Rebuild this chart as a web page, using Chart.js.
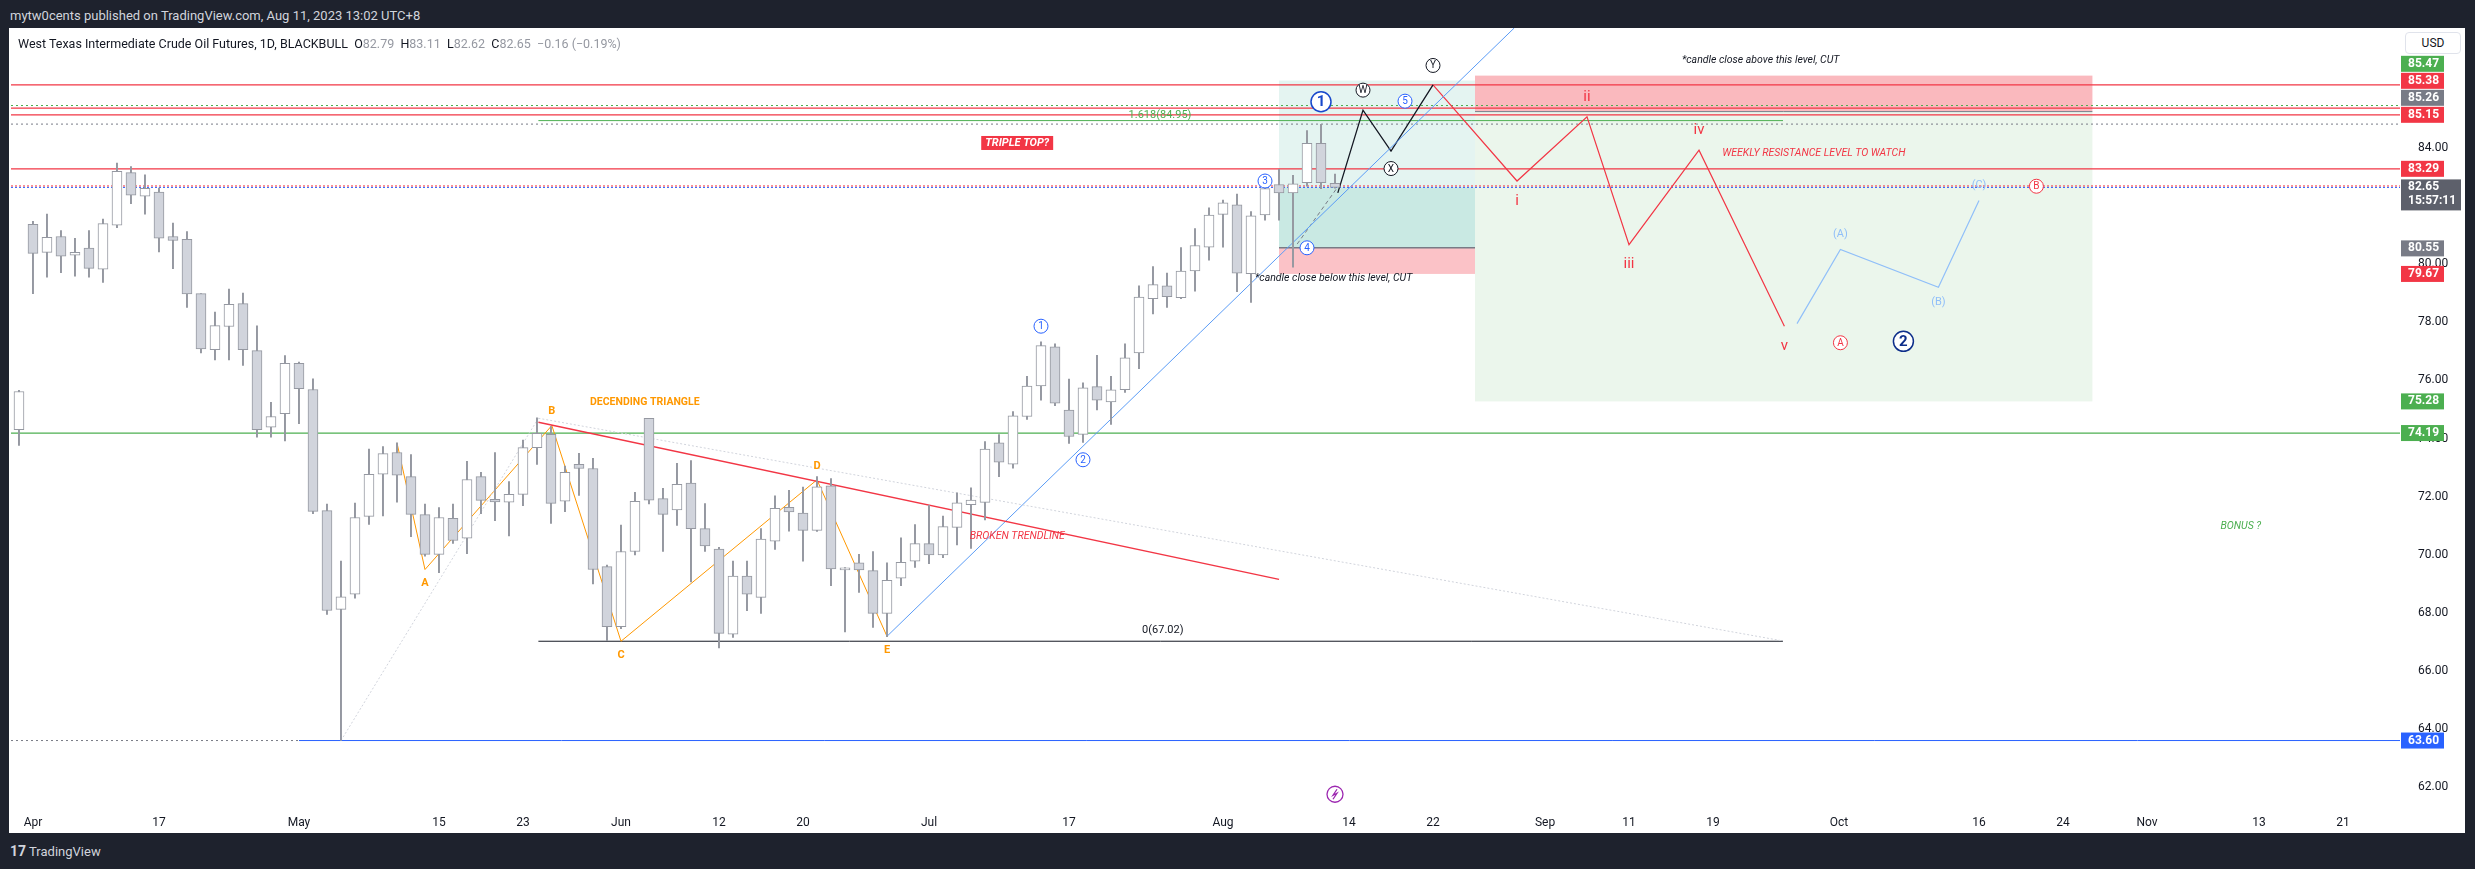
<!DOCTYPE html>
<html>
<head>
<meta charset="utf-8">
<script src="https://cdn.jsdelivr.net/npm/chart.js@4.4.0/dist/chart.umd.min.js"></script>
<style>
  html, body { margin: 0; padding: 0; background: #1e222d; width: 2475px; height: 869px; overflow: hidden; font-family: Roboto, "Liberation Sans", sans-serif; }
  #hdr { position: absolute; left: 10px; top: 8px; color: #d1d4dc; font-size: 13px; }
  #panel { position: absolute; left: 9px; top: 28px; width: 2456px; height: 805px; background: #fff; }
  #legend { position: absolute; left: 18px; top: 36px; font-size: 12.5px; color: #131722; z-index: 2; }
  #legend span { color: #9598a1; }
  #usd { position: absolute; left: 2405px; top: 32px; width: 54px; height: 20px; border: 1px solid #e0e3eb; border-radius: 4px; font-size: 12px; text-align: center; line-height: 20px; color: #131722; background: #fff; z-index: 2; }
  #foot { position: absolute; left: 10px; top: 843px; color: #d1d4dc; font-size: 13px; }
  #foot b { font-size: 14px; margin-right: 3px; }
  #wrap { position: absolute; left: 9px; top: 28px; width: 2456px; height: 805px; }
</style>
</head>
<body>
<div id="hdr">mytw0cents published on TradingView.com, Aug 11, 2023 13:02 UTC+8</div>
<div id="panel"></div>
<div id="legend">West Texas Intermediate Crude Oil Futures, 1D, BLACKBULL &nbsp;O<span>82.79</span> &nbsp;H<span>83.11</span> &nbsp;L<span>82.62</span> &nbsp;C<span>82.65</span> &nbsp;<span>−0.16 (−0.19%)</span></div>
<div id="usd">USD</div>
<div id="wrap"><canvas id="c"></canvas></div>
<div id="foot"><b>17</b>TradingView</div>
<script>
/* WTI daily, Mar 31 - Aug 11 2023 */
const opens  = [74.31,81.38,80.41,80.96,80.32,80.56,79.83,81.35,83.16,82.35,82.49,80.96,80.86,78.99,77.06,77.86,78.65,77.03,74.39,74.86,
                76.59,75.69,71.52,68.12,68.64,71.32,72.77,73.52,72.69,71.38,70.01,71.25,70.57,72.69,71.91,71.81,72.08,73.69,74.15,71.84,
                73.11,72.97,69.59,67.52,70.11,74.70,71.93,71.54,72.47,70.90,70.19,67.26,69.26,68.53,70.47,71.63,71.43,70.84,72.37,69.48,
                69.72,69.45,67.98,69.19,69.78,70.38,69.99,70.94,71.72,71.80,73.85,73.12,74.76,75.81,77.16,74.98,74.14,75.79,75.26,75.68,
                76.95,78.82,79.26,78.85,79.77,80.59,81.72,82.05,79.68,81.70,82.75,82.46,82.81,84.17,82.79];
const highs  = [75.66,81.48,81.73,81.16,80.90,81.16,81.56,83.49,83.37,83.08,82.63,81.42,81.13,78.99,78.36,79.15,79.01,77.88,75.25,76.86,
                76.63,76.06,71.74,69.78,71.78,73.64,73.72,73.85,73.45,71.74,71.62,71.74,73.22,72.84,73.52,72.52,73.95,74.71,74.41,73.05,
                73.49,73.32,69.64,71.02,72.15,74.70,72.29,73.15,73.24,71.76,70.25,69.78,69.78,70.90,72.03,72.22,72.33,72.69,72.62,69.56,
                70.01,70.11,69.72,70.58,71.04,71.70,71.33,72.13,72.30,73.90,74.14,74.93,76.14,77.33,77.26,76.05,75.92,76.87,76.14,77.26,
                79.26,79.92,79.70,80.58,81.23,81.95,82.21,82.42,81.82,83.08,83.27,83.07,84.61,84.82,83.11];
const lows   = [73.76,78.99,79.56,79.71,79.59,79.56,79.38,81.26,82.09,81.73,80.43,79.85,78.52,76.95,76.71,76.71,76.52,74.05,74.05,73.92,
                74.51,71.41,67.94,63.60,68.50,71.04,71.34,71.81,70.62,69.95,69.38,70.39,70.04,71.41,71.17,70.65,71.69,73.11,71.08,71.48,
                72.04,68.99,67.04,67.45,69.99,71.75,70.11,71.01,69.06,70.11,66.79,67.15,68.07,67.98,70.18,70.81,69.78,70.80,68.93,67.34,
                68.70,67.50,67.18,68.93,69.56,69.69,69.90,70.34,70.22,71.20,72.69,72.98,74.66,75.32,75.13,73.83,73.87,74.99,74.49,75.59,
                76.41,78.29,78.52,78.82,79.08,80.14,80.59,79.06,78.69,81.52,81.52,79.90,82.69,82.61,82.62];
const closes = [75.62,80.38,80.93,80.28,80.41,79.86,81.40,83.20,82.38,82.62,80.90,80.82,78.98,77.09,77.89,78.62,77.06,74.31,74.76,76.59,
                75.72,71.49,68.08,68.55,71.28,72.77,73.48,72.74,71.39,70.01,71.28,70.49,72.59,71.87,71.82,72.08,73.69,74.18,71.77,72.84,
                72.97,69.49,67.52,70.11,71.84,71.88,71.39,72.42,70.90,70.30,67.29,69.26,68.64,70.54,71.60,71.47,70.84,72.34,69.51,69.51,
                69.48,67.98,69.12,69.74,70.38,69.99,70.97,71.79,71.88,73.64,73.19,74.78,75.81,77.20,75.22,74.07,75.75,75.32,75.68,76.78,
                78.87,79.30,78.89,79.77,80.65,81.70,82.12,79.70,81.67,82.61,82.46,82.77,84.17,82.81,82.65];

/* x axis: trading days (weekdays, Good Friday closed), extended into the projection area */
const firstDay  = '2023-03-31';
const lastDay   = '2023-11-27';
const holidays  = ['2023-04-07'];
const tickDays  = ['2023-04-03','2023-04-17','2023-05-01','2023-05-15','2023-05-23','2023-06-01','2023-06-12','2023-06-20','2023-07-03','2023-07-17',
                   '2023-08-01','2023-08-14','2023-08-22','2023-09-01','2023-09-11','2023-09-19','2023-10-02','2023-10-16','2023-10-24','2023-11-01','2023-11-13','2023-11-21'];
const tickNames = ['Apr','17','May','15','23','Jun','12','20','Jul','17','Aug','14','22','Sep','11','19','Oct','16','24','Nov','13','21'];
const yTicks    = [62,64,66,68,70,72,74,76,78,80,82,84];

/* drawings, as [bar index, price] */
const zigzagPts   = [[27,73.85],[29,69.49],[38.06,74.45],[43,67.02],[57,72.58],[62,67.19]];
const zigzagNames = ['', 'A','B','C','D','E'];
const impulsePts  = [[101,86.18],[107,82.87],[112,85.08],[115,80.68],[120,83.93],[126.1,77.87]];
const impulseNames= ['', 'i','ii','iii','iv','v'];
const abcPts      = [[127,77.96],[130.1,80.51],[137.1,79.21],[140,82.2]];
const abcNames    = ['', '(A)','(B)','(C)'];
const wxyPts      = [[94.2,82.46],[96,85.31],[98,83.9],[101,86.18]];
const upTrend     = [[62,67.19],[106.8,88.14]];
const brokenTrend = [[37.1,74.56],[90,69.15]];
const grayRise    = [[23,63.6],[37.1,74.7]];
const grayFall    = [[37.1,74.7],[126,67.03]];
const dashedLeg   = [[91.3,80.7],[94.1,82.6]];

const days = [];
for (let d = new Date(firstDay + 'T00:00:00Z'); d <= new Date(lastDay + 'T00:00:00Z'); d.setUTCDate(d.getUTCDate() + 1)) {
  const s = d.toISOString().slice(0, 10);
  if (d.getUTCDay() === 0 || d.getUTCDay() === 6 || holidays.includes(s)) continue;
  days.push(s);
}
const tickIdx = tickDays.map(t => days.indexOf(t));
const XMIN = -0.57, XMAX = days.length - 1 + 0.07, YMIN = 61.38, YMAX = 88.14;

const RED = '#f23645', GREEN = '#4caf50', BLUE = '#2962ff', GRAYL = '#9598a1';
const pts = a => a.map(p => ({ x: p[0], y: p[1] }));
const hline = (y, x0, x1, color, dash, w) => ({
  type: 'line', data: [{ x: x0, y }, { x: x1, y }], borderColor: color, borderWidth: w || 1,
  borderDash: dash || [], pointRadius: 0, order: 5
});
const path = (a, color, w, dash) => ({
  type: 'line', data: pts(a), borderColor: color, borderWidth: w || 1, borderDash: dash || [],
  pointRadius: 0, tension: 0, order: 3
});

const wicks  = opens.map((o, i) => ({ x: i, y: [lows[i], highs[i]] }));
const bodies = opens.map((o, i) => ({ x: i, y: [o, closes[i]] }));
const bodyFill = opens.map((o, i) => closes[i] >= o ? '#ffffff' : '#d1d4dc');

const boxes = [
  { x0: 104, x1: 148.1, y0: 85.28, y1: 75.28, c: 'rgba(76,175,80,0.11)' },
  { x0: 104, x1: 148.1, y0: 86.5,  y1: 85.28, c: 'rgba(242,54,69,0.35)' },
  { x0: 90,  x1: 104,   y0: 86.33, y1: 82.65, c: 'rgba(8,153,129,0.11)' },
  { x0: 90,  x1: 104,   y0: 82.65, y1: 80.57, c: 'rgba(8,153,129,0.22)' },
  { x0: 90,  x1: 104,   y0: 80.57, y1: 79.67, c: 'rgba(242,54,69,0.3)' },
];

const texts = [
  { x: 44.7, y: 75.26, t: 'DECENDING TRIANGLE', c: '#ff9800', f: 'bold 10.5px Roboto' },
  { x: 81.7, y: 67.4,  t: '0(67.02)', c: '#131722', f: '11px Roboto' },
  { x: 81.5, y: 85.12, t: '1.618(84.95)', c: GREEN, f: '11px Roboto' },
  { x: 71.3, y: 70.64, t: 'BROKEN TRENDLINE', c: RED, f: 'italic 10.5px Roboto' },
  { x: 128.2, y: 83.83, t: 'WEEKLY RESISTANCE LEVEL TO WATCH', c: RED, f: 'italic 10.5px Roboto' },
  { x: 124.4, y: 87.02, t: '*candle close above this level, CUT', c: '#131722', f: 'italic 10.5px Roboto' },
  { x: 93.9,  y: 79.53, t: '*candle close below this level, CUT', c: '#131722', f: 'italic 10.5px Roboto' },
  { x: 158.7, y: 70.97, t: 'BONUS ?', c: GREEN, f: 'italic 10.5px Roboto' },
];
const circled = [
  { x: 73, y: 77.87, t: '1', c: BLUE, r: 7 }, { x: 76, y: 73.27, t: '2', c: BLUE, r: 7 },
  { x: 89, y: 82.87, t: '3', c: BLUE, r: 7 }, { x: 92, y: 80.57, t: '4', c: BLUE, r: 7 },
  { x: 99, y: 85.62, t: '5', c: BLUE, r: 7 }, { x: 93, y: 85.6, t: '1', c: '#1848cc', r: 10 },
  { x: 96, y: 86.0, t: 'W', c: '#131722', r: 7 }, { x: 98, y: 83.3, t: 'X', c: '#131722', r: 7 },
  { x: 101, y: 86.85, t: 'Y', c: '#131722', r: 7 },
  { x: 130.1, y: 77.3, t: 'A', c: RED, r: 7 }, { x: 144.1, y: 82.69, t: 'B', c: RED, r: 7 },
  { x: 134.6, y: 77.35, t: '2', c: '#0d2e8a', r: 10 },
];
const tags = [
  { p: 63.60, c: BLUE }, { p: 74.19, c: GREEN }, { p: 75.28, c: GREEN }, { p: 79.67, c: RED },
  { p: 80.55, c: '#787b86' }, { p: 82.65, c: '#5d606b', sub: '15:57:11' }, { p: 83.29, c: RED },
  { p: 85.15, c: RED }, { p: 85.26, c: '#787b86' }, { p: 85.38, c: RED }, { p: 85.47, c: GREEN },
];

const drawings = {
  id: 'drawings',
  beforeDatasetsDraw(chart) {
    const { ctx, scales: { x, y } } = chart;
    ctx.save();
    boxes.forEach(b => {
      ctx.fillStyle = b.c;
      ctx.fillRect(x.getPixelForValue(b.x0), y.getPixelForValue(b.y0),
        x.getPixelForValue(b.x1) - x.getPixelForValue(b.x0), y.getPixelForValue(b.y1) - y.getPixelForValue(b.y0));
    });
    ctx.restore();
  },
  afterDatasetsDraw(chart) {
    const { ctx, scales: { x, y }, chartArea } = chart;
    ctx.save();
    ctx.textAlign = 'center'; ctx.textBaseline = 'middle';
    const label = (list, names, color, font, dy) => list.forEach((p, i) => {
      if (!names[i]) return;
      ctx.fillStyle = color; ctx.font = font;
      const up = list[i][1] > list[i - 1][1];
      ctx.fillText(names[i], x.getPixelForValue(p[0]), y.getPixelForValue(p[1]) + (up ? -dy : dy));
    });
    label(zigzagPts, zigzagNames, '#ff9800', 'bold 11px Roboto', 14);
    label(impulsePts, impulseNames, RED, '15px Roboto', 20);
    label(abcPts, abcNames, '#90bff9', '11px Roboto', 15);

    texts.forEach(t => {
      ctx.font = t.f; ctx.fillStyle = t.c;
      ctx.fillText(t.t, x.getPixelForValue(t.x), y.getPixelForValue(t.y));
    });
    // TRIPLE TOP? tag
    ctx.font = 'italic bold 11px Roboto';
    const tx = x.getPixelForValue(71.3), ty = y.getPixelForValue(84.18);
    const tw = ctx.measureText('TRIPLE TOP?').width + 8;
    ctx.fillStyle = RED; ctx.fillRect(tx - tw / 2, ty - 7, tw, 14);
    ctx.fillStyle = '#fff'; ctx.fillText('TRIPLE TOP?', tx, ty);

    circled.forEach(c => {
      const cx = x.getPixelForValue(c.x), cy = y.getPixelForValue(c.y);
      ctx.beginPath(); ctx.arc(cx, cy, c.r, 0, Math.PI * 2);
      ctx.fillStyle = '#fff'; ctx.fill();
      ctx.strokeStyle = c.c; ctx.lineWidth = c.r > 8 ? 1.5 : 1; ctx.stroke();
      ctx.fillStyle = c.c; ctx.font = (c.r > 8 ? 'bold 15px' : '10px') + ' Roboto';
      ctx.fillText(c.t, cx, cy + 0.5);
    });

    // lightning marker on the time axis
    const lx = x.getPixelForValue(94), ly = y.getPixelForValue(61.75);
    ctx.beginPath(); ctx.arc(lx, ly, 8, 0, Math.PI * 2);
    ctx.strokeStyle = '#9c27b0'; ctx.lineWidth = 1.3; ctx.stroke();
    ctx.beginPath(); ctx.moveTo(lx + 2, ly - 5); ctx.lineTo(lx - 2, ly + 1); ctx.lineTo(lx + 2, ly - 1); ctx.lineTo(lx - 2, ly + 5); ctx.stroke();

    // price tags on the axis, stacked upward when they collide
    let prev = Infinity;
    ctx.font = 'bold 12px Roboto'; ctx.textAlign = 'left';
    tags.forEach(g => {
      const py = Math.min(y.getPixelForValue(g.p), prev - 17);
      prev = py;
      const left = chartArea.right + 1, h = g.sub ? 31 : 16;
      ctx.fillStyle = g.c;
      ctx.fillRect(left, py - 8, g.sub ? 60 : 43, h);
      ctx.fillStyle = '#fff';
      ctx.fillText(g.p.toFixed(2), left + 7, py);
      if (g.sub) ctx.fillText(g.sub, left + 7, py + 14);
    });
    ctx.restore();
  }
};

new Chart(document.getElementById('c'), {
  data: {
    datasets: [
      hline(86.18, XMIN, XMAX, RED, [], 1.3),
      hline(85.47, XMIN, XMAX, GREEN, [2, 3]),
      hline(85.38, XMIN, XMAX, RED, [], 1.3),
      hline(85.26, 104, 148.1, '#787b86'),
      hline(85.15, XMIN, XMAX, RED, [], 1.3),
      hline(84.95, 37.1, 126, GREEN),
      hline(84.83, XMIN, XMAX, '#787b86', [2, 3]),
      hline(83.29, XMIN, XMAX, RED, [], 1.3),
      hline(82.70, XMIN, XMAX, RED, [2, 2]),
      hline(82.65, XMIN, XMAX, BLUE, [2, 2]),
      hline(80.57, 90, 104, '#787b86', [], 1.5),
      hline(74.19, XMIN, XMAX, GREEN, [], 1.3),
      hline(67.02, 37.1, 126, '#131722'),
      hline(63.60, XMIN, 20, '#787b86', [2, 3]),
      hline(63.60, 20, XMAX, BLUE),
      path(grayRise, '#d1d4dc', 1, [2, 2]),
      path(grayFall, '#d1d4dc', 1, [2, 2]),
      path(brokenTrend, RED, 1.5),
      path(upTrend, '#5b9cf6', 1),
      path(zigzagPts, '#ff9800', 1),
      path(wxyPts, '#131722', 1.3),
      path(dashedLeg, '#787b86', 1, [4, 3]),
      path(impulsePts, RED, 1.2),
      path(abcPts, '#90bff9', 1.2),
      { type: 'bar', data: wicks, backgroundColor: GRAYL, barThickness: 1.3, grouped: false, order: 2 },
      { type: 'bar', data: bodies, backgroundColor: bodyFill, borderColor: GRAYL, borderWidth: 1,
        borderSkipped: false, barThickness: 10, minBarLength: 2, grouped: false, order: 1 },
    ]
  },
  options: {
    responsive: true,
    maintainAspectRatio: false,
    animation: false,
    events: [],
    layout: { padding: { left: 2 } },
    plugins: { legend: { display: false }, tooltip: { enabled: false } },
    scales: {
      x: {
        type: 'linear', min: XMIN, max: XMAX, offset: false,
        grid: { display: false, offset: false }, border: { display: false },
        afterBuildTicks: s => { s.ticks = tickIdx.map(v => ({ value: v })); },
        afterFit: s => { s.height = 28; s.paddingLeft = 0; s.paddingRight = 0; },
        ticks: { autoSkip: false, maxRotation: 0, color: '#131722', font: { size: 12, family: 'Roboto' },
                 callback: v => tickNames[tickIdx.indexOf(v)] }
      },
      y: {
        position: 'right', min: YMIN, max: YMAX,
        grid: { display: false }, border: { display: false },
        afterBuildTicks: s => { s.ticks = yTicks.map(v => ({ value: v })); },
        afterFit: s => { s.width = 65; s.paddingTop = 0; s.paddingBottom = 0; },
        ticks: { color: '#131722', font: { size: 12, family: 'Roboto' }, padding: 10, callback: v => v.toFixed(2) }
      }
    }
  },
  plugins: [drawings]
});
</script>
</body>
</html>
